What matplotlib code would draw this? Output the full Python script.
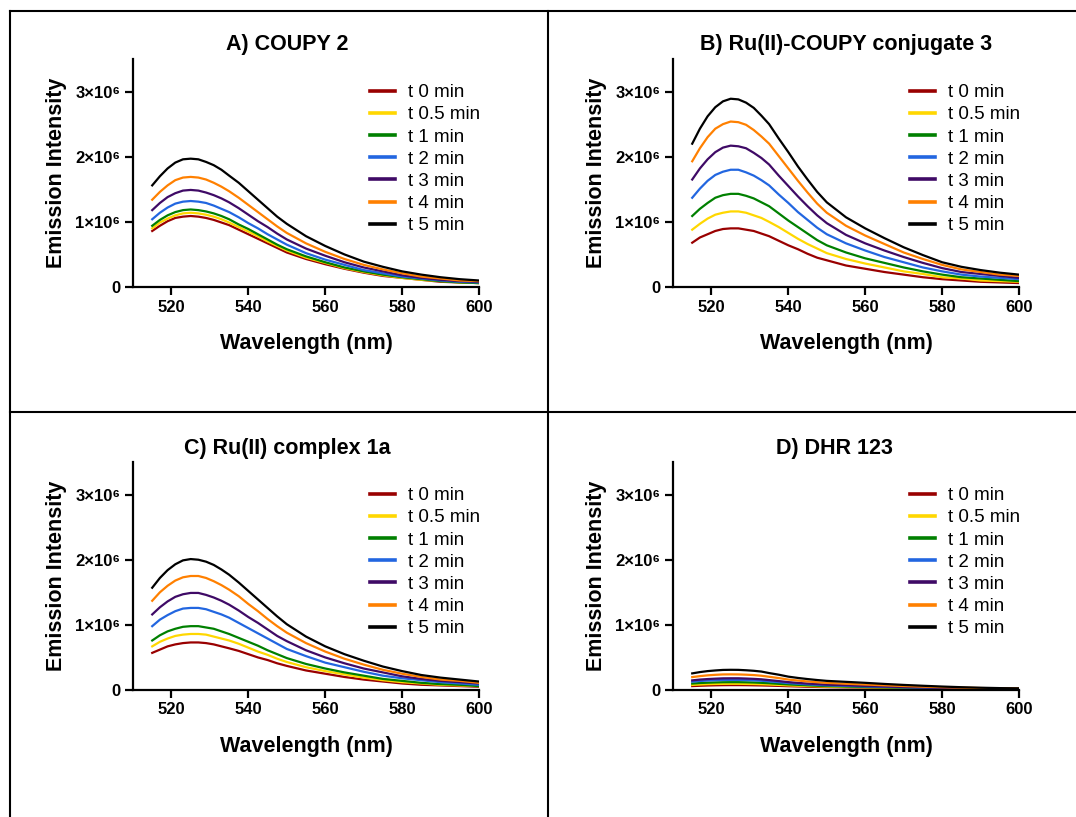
import matplotlib
matplotlib.use('Agg')
import matplotlib.pyplot as plt
from matplotlib.lines import Line2D

plt.rcParams['font.family'] = ['Liberation Sans', 'DejaVu Sans']

# emission spectra, intensity in units of 1e6
wl = [515, 517, 519, 521, 523, 525, 527, 529, 531, 533, 535, 537.5, 540, 542.5, 545, 547.5,
      550, 555, 560, 565, 570, 575, 580, 585, 590, 595, 600]
times = ['t 0 min', 't 0.5 min', 't 1 min', 't 2 min', 't 3 min', 't 4 min', 't 5 min']
colors = ['#990000', '#FFD700', '#008000', '#2266E0', '#3F0A66', '#FF8000', '#000000']
titles = ['A) COUPY 2', 'B) Ru(II)-COUPY conjugate 3', 'C) Ru(II) complex 1a', 'D) DHR 123']

coupy2 = [
    [0.86, 0.94, 1.01, 1.06, 1.08, 1.09, 1.08, 1.06, 1.03, 0.99, 0.95, 0.88, 0.81, 0.74, 0.67, 0.60, 0.53, 0.43, 0.35, 0.28, 0.22, 0.17, 0.14, 0.11, 0.08, 0.07, 0.06],
    [0.90, 0.99, 1.05, 1.10, 1.13, 1.14, 1.13, 1.11, 1.08, 1.04, 0.99, 0.92, 0.85, 0.78, 0.70, 0.63, 0.56, 0.45, 0.37, 0.29, 0.23, 0.18, 0.14, 0.11, 0.09, 0.07, 0.06],
    [0.94, 1.03, 1.10, 1.15, 1.18, 1.19, 1.18, 1.16, 1.13, 1.09, 1.04, 0.96, 0.89, 0.81, 0.73, 0.65, 0.58, 0.47, 0.38, 0.30, 0.24, 0.19, 0.15, 0.12, 0.09, 0.07, 0.06],
    [1.04, 1.14, 1.22, 1.28, 1.31, 1.32, 1.31, 1.29, 1.25, 1.20, 1.15, 1.07, 0.98, 0.90, 0.81, 0.73, 0.65, 0.52, 0.42, 0.34, 0.26, 0.21, 0.16, 0.13, 0.10, 0.08, 0.07],
    [1.18, 1.29, 1.38, 1.44, 1.48, 1.49, 1.48, 1.45, 1.41, 1.36, 1.30, 1.21, 1.11, 1.01, 0.92, 0.82, 0.73, 0.59, 0.48, 0.38, 0.30, 0.24, 0.18, 0.14, 0.11, 0.09, 0.08],
    [1.34, 1.46, 1.56, 1.64, 1.68, 1.69, 1.68, 1.65, 1.60, 1.54, 1.47, 1.37, 1.26, 1.15, 1.04, 0.93, 0.83, 0.67, 0.54, 0.43, 0.34, 0.27, 0.21, 0.16, 0.13, 0.10, 0.09],
    [1.56, 1.70, 1.82, 1.91, 1.96, 1.97, 1.96, 1.92, 1.87, 1.80, 1.71, 1.60, 1.47, 1.34, 1.21, 1.08, 0.97, 0.78, 0.63, 0.50, 0.39, 0.31, 0.24, 0.19, 0.15, 0.12, 0.10],
]
conj3 = [
    [0.68, 0.76, 0.81, 0.86, 0.89, 0.90, 0.90, 0.88, 0.86, 0.82, 0.78, 0.71, 0.64, 0.58, 0.51, 0.45, 0.41, 0.33, 0.28, 0.23, 0.19, 0.15, 0.12, 0.10, 0.08, 0.07, 0.06],
    [0.88, 0.97, 1.05, 1.11, 1.14, 1.16, 1.16, 1.14, 1.10, 1.06, 1.00, 0.92, 0.83, 0.74, 0.66, 0.59, 0.52, 0.43, 0.36, 0.30, 0.24, 0.20, 0.15, 0.13, 0.10, 0.09, 0.08],
    [1.09, 1.20, 1.29, 1.37, 1.41, 1.43, 1.43, 1.40, 1.36, 1.30, 1.24, 1.13, 1.02, 0.92, 0.82, 0.72, 0.64, 0.53, 0.44, 0.37, 0.30, 0.24, 0.19, 0.15, 0.13, 0.11, 0.09],
    [1.37, 1.51, 1.63, 1.72, 1.77, 1.80, 1.80, 1.76, 1.71, 1.64, 1.56, 1.42, 1.29, 1.15, 1.03, 0.91, 0.81, 0.67, 0.56, 0.46, 0.38, 0.30, 0.24, 0.19, 0.16, 0.14, 0.12],
    [1.65, 1.82, 1.96, 2.07, 2.14, 2.17, 2.16, 2.13, 2.06, 1.98, 1.88, 1.71, 1.55, 1.39, 1.24, 1.10, 0.98, 0.80, 0.67, 0.56, 0.46, 0.37, 0.29, 0.23, 0.20, 0.17, 0.14],
    [1.93, 2.13, 2.30, 2.43, 2.50, 2.54, 2.53, 2.49, 2.41, 2.31, 2.20, 2.01, 1.82, 1.63, 1.45, 1.28, 1.14, 0.94, 0.79, 0.66, 0.53, 0.43, 0.34, 0.27, 0.23, 0.19, 0.17],
    [2.20, 2.43, 2.62, 2.76, 2.85, 2.89, 2.88, 2.83, 2.75, 2.63, 2.50, 2.28, 2.07, 1.85, 1.65, 1.46, 1.30, 1.07, 0.90, 0.75, 0.61, 0.49, 0.38, 0.31, 0.26, 0.22, 0.19],
]
ru1a = [
    [0.57, 0.62, 0.67, 0.70, 0.72, 0.73, 0.73, 0.72, 0.70, 0.67, 0.64, 0.60, 0.55, 0.50, 0.46, 0.41, 0.37, 0.30, 0.25, 0.20, 0.16, 0.13, 0.10, 0.08, 0.07, 0.06, 0.05],
    [0.67, 0.74, 0.79, 0.83, 0.85, 0.86, 0.86, 0.85, 0.82, 0.79, 0.76, 0.71, 0.65, 0.59, 0.54, 0.48, 0.43, 0.35, 0.29, 0.24, 0.19, 0.15, 0.12, 0.10, 0.08, 0.07, 0.06],
    [0.76, 0.84, 0.90, 0.94, 0.97, 0.98, 0.98, 0.96, 0.94, 0.90, 0.86, 0.80, 0.74, 0.68, 0.61, 0.55, 0.49, 0.40, 0.33, 0.27, 0.22, 0.17, 0.14, 0.11, 0.09, 0.08, 0.06],
    [0.98, 1.08, 1.15, 1.21, 1.25, 1.26, 1.26, 1.24, 1.20, 1.16, 1.11, 1.03, 0.95, 0.87, 0.79, 0.71, 0.63, 0.52, 0.42, 0.35, 0.28, 0.22, 0.18, 0.15, 0.12, 0.10, 0.08],
    [1.16, 1.27, 1.36, 1.43, 1.47, 1.49, 1.49, 1.46, 1.42, 1.37, 1.31, 1.22, 1.12, 1.03, 0.93, 0.83, 0.75, 0.61, 0.50, 0.41, 0.33, 0.27, 0.21, 0.17, 0.14, 0.12, 0.10],
    [1.37, 1.50, 1.60, 1.68, 1.73, 1.75, 1.75, 1.72, 1.67, 1.61, 1.54, 1.44, 1.32, 1.21, 1.09, 0.98, 0.88, 0.72, 0.59, 0.48, 0.39, 0.31, 0.25, 0.20, 0.16, 0.14, 0.11],
    [1.57, 1.72, 1.84, 1.93, 1.99, 2.01, 2.00, 1.97, 1.92, 1.85, 1.77, 1.65, 1.52, 1.39, 1.26, 1.13, 1.01, 0.82, 0.67, 0.55, 0.45, 0.36, 0.29, 0.23, 0.19, 0.16, 0.13],
]
dhr123 = [
    [0.060, 0.065, 0.069, 0.072, 0.074, 0.075, 0.075, 0.074, 0.072, 0.070, 0.067, 0.063, 0.058, 0.054, 0.050, 0.047, 0.044, 0.040, 0.036, 0.032, 0.029, 0.026, 0.023, 0.021, 0.019, 0.017, 0.016],
    [0.078, 0.084, 0.089, 0.092, 0.094, 0.095, 0.095, 0.093, 0.091, 0.088, 0.084, 0.078, 0.071, 0.066, 0.061, 0.056, 0.052, 0.046, 0.041, 0.036, 0.032, 0.028, 0.025, 0.022, 0.020, 0.018, 0.017],
    [0.099, 0.107, 0.112, 0.116, 0.119, 0.120, 0.120, 0.118, 0.115, 0.110, 0.104, 0.095, 0.086, 0.079, 0.072, 0.066, 0.061, 0.053, 0.047, 0.041, 0.036, 0.031, 0.027, 0.024, 0.021, 0.019, 0.018],
    [0.128, 0.138, 0.145, 0.150, 0.154, 0.155, 0.155, 0.152, 0.148, 0.142, 0.132, 0.120, 0.106, 0.096, 0.087, 0.079, 0.072, 0.063, 0.055, 0.048, 0.041, 0.035, 0.030, 0.026, 0.023, 0.020, 0.019],
    [0.148, 0.160, 0.168, 0.174, 0.179, 0.180, 0.180, 0.176, 0.171, 0.164, 0.152, 0.137, 0.121, 0.109, 0.099, 0.090, 0.082, 0.072, 0.063, 0.054, 0.046, 0.039, 0.033, 0.028, 0.024, 0.021, 0.020],
    [0.198, 0.213, 0.225, 0.233, 0.239, 0.240, 0.239, 0.235, 0.229, 0.219, 0.203, 0.183, 0.160, 0.145, 0.131, 0.119, 0.109, 0.096, 0.084, 0.072, 0.061, 0.051, 0.043, 0.036, 0.030, 0.026, 0.023],
    [0.255, 0.275, 0.290, 0.300, 0.308, 0.310, 0.309, 0.303, 0.295, 0.283, 0.260, 0.235, 0.205, 0.185, 0.168, 0.153, 0.140, 0.125, 0.110, 0.093, 0.078, 0.065, 0.053, 0.043, 0.035, 0.029, 0.025],
]
panels = [coupy2, conj3, ru1a, dhr123]

yticks = [0, 1e6, 2e6, 3e6]
ytick_labels = ['0', '1×10⁶', '2×10⁶', '3×10⁶']
xticks = [520, 540, 560, 580, 600]

W, H = 1076, 817
fig = plt.figure(figsize=(W / 100, H / 100), dpi=100)

# pixel positions (left, top) of each plot area, and title centres
origins = [(133, 59), (673, 59), (133, 462), (673, 462)]
title_pos = [(287, 50), (846, 50), (287, 454), (834, 454)]
aw, ah = 346, 228

for k, data in enumerate(panels):
    l, t = origins[k]
    ax = fig.add_axes([l / W, 1 - (t + ah) / H, aw / W, ah / H])
    for row, c, lab in zip(data, colors, times):
        ax.plot(wl, [v * 1e6 for v in row], color=c, lw=1.6, label=lab)
    ax.set_xlim(510, 600)
    ax.set_ylim(0, 3.5e6)
    ax.set_xticks(xticks)
    ax.set_yticks(yticks)
    ax.set_yticklabels(ytick_labels)
    for s in ['top', 'right']:
        ax.spines[s].set_visible(False)
    for s in ['left', 'bottom']:
        ax.spines[s].set_linewidth(1.6)
    ax.tick_params(width=1.6, length=6, labelsize=12, pad=3)
    for lbl in ax.get_xticklabels() + ax.get_yticklabels():
        lbl.set_fontweight('bold')
    ax.set_xlabel('Wavelength (nm)', fontsize=15.5, fontweight='bold')
    ax.set_ylabel('Emission Intensity', fontsize=15.5, fontweight='bold')
    ax.xaxis.set_label_coords(0.5, -0.2)
    ax.yaxis.set_label_coords(-0.191, 0.5)
    leg = ax.legend(loc='upper left', bbox_to_anchor=(0.684, 0.89), frameon=False,
                    fontsize=13.5, handlelength=1.35, handletextpad=0.7,
                    labelspacing=0.27, borderpad=0, borderaxespad=0)
    for h in leg.get_lines():
        h.set_linewidth(2.6)
    tx, ty = title_pos[k]
    fig.text(tx / W, 1 - ty / H, titles[k], ha='center', va='baseline',
             fontsize=15.5, fontweight='bold')

# panel frame lines
def fline(x0, y0, x1, y1):
    fig.add_artist(Line2D([x0 / W, x1 / W], [1 - y0 / H, 1 - y1 / H], color='black', lw=1.5))

fline(10, 11, W, 11)
fline(10, 11, 10, H)
fline(548, 11, 548, H)
fline(10, 412, W, 412)

fig.savefig('out.png', dpi=100)
